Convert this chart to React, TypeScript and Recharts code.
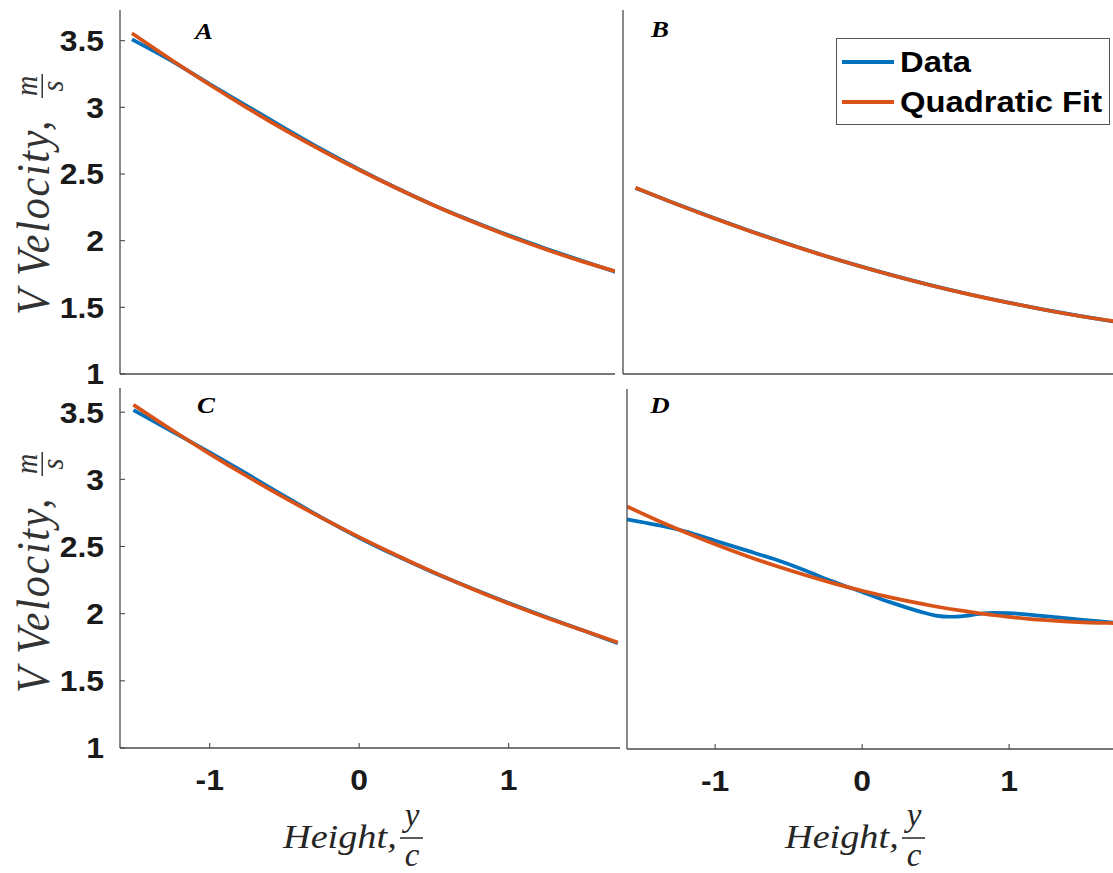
import React from 'react';
import { LineChart, Line, XAxis, YAxis, Legend } from 'recharts';

// ---------- data ----------
const xTop = [-1.52, -1.25, -1, -0.75, -0.5, -0.25, 0, 0.25, 0.5, 0.75, 1, 1.25, 1.5, 1.73];
const dataA = [3.51, 3.345, 3.175, 3.01, 2.845, 2.685, 2.535, 2.395, 2.265, 2.15, 2.04, 1.94, 1.845, 1.76];
const fitA = [3.555, 3.351, 3.169, 2.996, 2.831, 2.676, 2.53, 2.393, 2.264, 2.145, 2.035, 1.934, 1.841, 1.765];

const dataB = [2.395, 2.279, 2.175, 2.076, 1.982, 1.893, 1.811, 1.734, 1.663, 1.598, 1.539, 1.485, 1.436, 1.394];
const fitB = [2.397, 2.278, 2.173, 2.074, 1.98, 1.892, 1.81, 1.733, 1.662, 1.597, 1.538, 1.484, 1.435, 1.397];

const xC = [-1.51, -1.25, -1, -0.75, -0.5, -0.25, 0, 0.25, 0.5, 0.75, 1, 1.25, 1.5, 1.73];
const dataC = [3.515, 3.355, 3.2, 3.04, 2.875, 2.715, 2.565, 2.43, 2.305, 2.19, 2.08, 1.975, 1.875, 1.78];
const fitC = [3.555, 3.365, 3.19, 3.023, 2.864, 2.713, 2.57, 2.435, 2.307, 2.187, 2.075, 1.971, 1.874, 1.785];

const xD = [-1.6, -1.4, -1.2, -1.0, -0.8, -0.6, -0.4, -0.2, 0, 0.2, 0.4, 0.5, 0.6, 0.7, 0.8, 0.9, 1.0, 1.2, 1.4, 1.6, 1.71];
const dataD = [2.742, 2.7, 2.65, 2.58, 2.51, 2.44, 2.36, 2.27, 2.19, 2.11, 2.04, 2.012, 2.003, 2.01, 2.025, 2.032, 2.03, 2.012, 1.99, 1.97, 1.958];
const fitD = [2.839, 2.737, 2.642, 2.553, 2.47, 2.393, 2.323, 2.258, 2.2, 2.148, 2.102, 2.081, 2.062, 2.045, 2.029, 2.014, 2.002, 1.981, 1.966, 1.957, 1.955];

const xTicks = [-1, 0, 1];
const yTicks = [1, 1.5, 2, 2.5, 3, 3.5];
const seriesNames = ['Data', 'Quadratic Fit'];
const panelLetters = ['A', 'B', 'C', 'D'];
const yLabelText = 'V Velocity,';
const xLabelText = 'Height,';

// ---------- styles ----------
const W = 1113;
const H = 873;
const BLUE = '#0072BD';
const ORANGE = '#D95319';
const AXIS = '#4a4a4a';
const TEXT = '#1a1a1a';
const SANS = '"Liberation Sans", Arial, Helvetica, sans-serif';
const SERIF = '"Liberation Serif", "Times New Roman", serif';
const STRETCH = 1.1;

const YTick = (props: any) => {
  const { x, y, payload } = props;
  return (
    <g transform={`translate(${x},${y}) scale(${STRETCH},1)`}>
      <text x={0} y={0} textAnchor="end" dominantBaseline="central" fontFamily={SANS} fontWeight="bold" fontSize={29} fill={TEXT}>
        {payload.value}
      </text>
    </g>
  );
};

const XTick = (props: any) => {
  const { x, y, payload } = props;
  return (
    <g transform={`translate(${x},${y}) scale(${STRETCH},1)`}>
      <text x={0} y={0} textAnchor="middle" dominantBaseline="central" fontFamily={SANS} fontWeight="bold" fontSize={29} fill={TEXT}>
        {payload.value}
      </text>
    </g>
  );
};

const LegendBox = () => (
  <div
    style={{
      width: 274,
      height: 87,
      border: '1.4px solid #555',
      background: '#fff',
      boxSizing: 'border-box',
      position: 'relative',
    }}
  >
    {seriesNames.map((n, i) => (
      <div key={n} style={{ position: 'absolute', left: 0, top: 23 + i * 40 - 20, height: 40, width: 274 }}>
        <div
          style={{
            position: 'absolute',
            left: 5,
            top: 18,
            width: 52,
            height: 4,
            background: i === 0 ? BLUE : ORANGE,
          }}
        />
        <div
          style={{
            position: 'absolute',
            left: 63,
            top: 0,
            height: 40,
            lineHeight: '40px',
            fontFamily: SANS,
            fontWeight: 'bold',
            fontSize: 29,
            color: '#000',
            whiteSpace: 'nowrap',
            transform: 'scaleX(1.13)',
            transformOrigin: 'left center',
          }}
        >
          {n}
        </div>
      </div>
    ))}
  </div>
);

type PanelProps = {
  xs: number[];
  data: number[];
  fit: number[];
  left: number;
  top: number;
  right: number;
  bottom: number;
  xDomain: [number, number];
  yDomain: [number, number];
  showXLabels: boolean;
  showYLabels: boolean;
  legend?: boolean;
};

const Panel = ({ xs, data, fit, left, top, right, bottom, xDomain, yDomain, showXLabels, showYLabels, legend }: PanelProps) => {
  const rows = xs.map((x, i) => ({ x, data: data[i], fit: fit[i] }));
  return (
    <div style={{ position: 'absolute', left: 0, top: 0 }}>
      <LineChart
        width={W}
        height={H}
        data={rows}
        margin={{ left: left - 60, top, right: W - right, bottom: H - bottom - 40 }}
      >
        <XAxis
          dataKey="x"
          type="number"
          domain={xDomain}
          ticks={xTicks}
          allowDataOverflow
          height={40}
          axisLine={{ stroke: AXIS, strokeWidth: 1.3 }}
          tickLine={{ stroke: AXIS, strokeWidth: 1.1 }}
          tickSize={-5}
          tickMargin={37}
          tick={showXLabels ? <XTick /> : false}
        />
        <YAxis
          type="number"
          domain={yDomain}
          ticks={yTicks}
          allowDataOverflow
          width={60}
          axisLine={{ stroke: AXIS, strokeWidth: 1.3 }}
          tickLine={{ stroke: AXIS, strokeWidth: 1.1 }}
          tickSize={-5}
          tickMargin={21}
          tick={showYLabels ? <YTick /> : false}
        />
        <Line type="monotone" dataKey="data" name={seriesNames[0]} stroke={BLUE} strokeWidth={3.7} dot={false} activeDot={false} isAnimationActive={false} />
        <Line type="monotone" dataKey="fit" name={seriesNames[1]} stroke={ORANGE} strokeWidth={3.7} dot={false} activeDot={false} isAnimationActive={false} />
        {legend && (
          <Legend
            layout="horizontal"
            align="center"
            verticalAlign="middle"
            content={() => <LegendBox />}
            wrapperStyle={{ position: 'absolute', left: 836, top: 38, width: 274, height: 87 }}
          />
        )}
      </LineChart>
    </div>
  );
};

const YLabel = ({ baseY }: { baseY: number }) => (
  <g transform={`translate(49, ${baseY}) scale(1.13,1) rotate(-90)`}>
    <text x={0} y={0} fontFamily={SERIF} fontStyle="italic" fontSize={42} letterSpacing={1.8} fill="#333">
      {yLabelText}
    </text>
    <text x={229} y={-11} textAnchor="middle" fontFamily={SERIF} fontStyle="italic" fontSize={28} fill="#333">m</text>
    <line x1={217} x2={241} y1={-6} y2={-6} stroke="#333" strokeWidth={1.3} />
    <text x={229} y={12} textAnchor="middle" fontFamily={SERIF} fontStyle="italic" fontSize={28} fill="#333">s</text>
  </g>
);

const XLabel = ({ x0 }: { x0: number }) => (
  <g>
    <g transform={`translate(${x0}, 848) scale(1.16,1)`}>
      <text x={0} y={0} fontFamily={SERIF} fontStyle="italic" fontSize={33} fill="#262626">
        {xLabelText}
      </text>
    </g>
    <text x={x0 + 129} y={826} textAnchor="middle" fontFamily={SERIF} fontStyle="italic" fontSize={33} fill="#262626">y</text>
    <line x1={x0 + 117} x2={x0 + 140} y1={838} y2={838} stroke="#262626" strokeWidth={1.5} />
    <text x={x0 + 129} y={866} textAnchor="middle" fontFamily={SERIF} fontStyle="italic" fontSize={33} fill="#262626">c</text>
  </g>
);

const letterPos = [
  [204, 31],
  [660, 29],
  [206, 405],
  [660, 405],
];

export default function App() {
  return (
    <div style={{ position: 'absolute', left: 0, top: 0, width: W, height: H, background: '#fff', overflow: 'hidden' }}>
      <Panel xs={xTop} data={dataA} fit={fitA} left={120} top={10} right={615} bottom={374} xDomain={[-1.6, 1.71]} yDomain={[1, 3.73]} showXLabels={false} showYLabels />
      <Panel xs={xTop} data={dataB} fit={fitB} left={623} top={10} right={1113} bottom={374} xDomain={[-1.605, 1.728]} yDomain={[1, 3.73]} showXLabels={false} showYLabels={false} legend />
      <Panel xs={xC} data={dataC} fit={fitC} left={120} top={388} right={620} bottom={748} xDomain={[-1.6, 1.745]} yDomain={[1, 3.68]} showXLabels showYLabels />
      <Panel xs={xD} data={dataD} fit={fitD} left={627} top={389} right={1113} bottom={749} xDomain={[-1.6, 1.707]} yDomain={[1, 3.73]} showXLabels showYLabels={false} />
      <svg width={W} height={H} style={{ position: 'absolute', left: 0, top: 0, pointerEvents: 'none' }}>
        {panelLetters.map((l, i) => (
          <g key={l} transform={`translate(${letterPos[i][0]},${letterPos[i][1]}) scale(1.12,1)`}>
            <text x={0} y={0} textAnchor="middle" dominantBaseline="central" fontFamily={SERIF} fontStyle="italic" fontWeight="bold" fontSize={24} fill="#000">
              {l}
            </text>
          </g>
        ))}
        <YLabel baseY={315} />
        <YLabel baseY={693} />
        <XLabel x0={283} />
        <XLabel x0={785} />
      </svg>
    </div>
  );
}
